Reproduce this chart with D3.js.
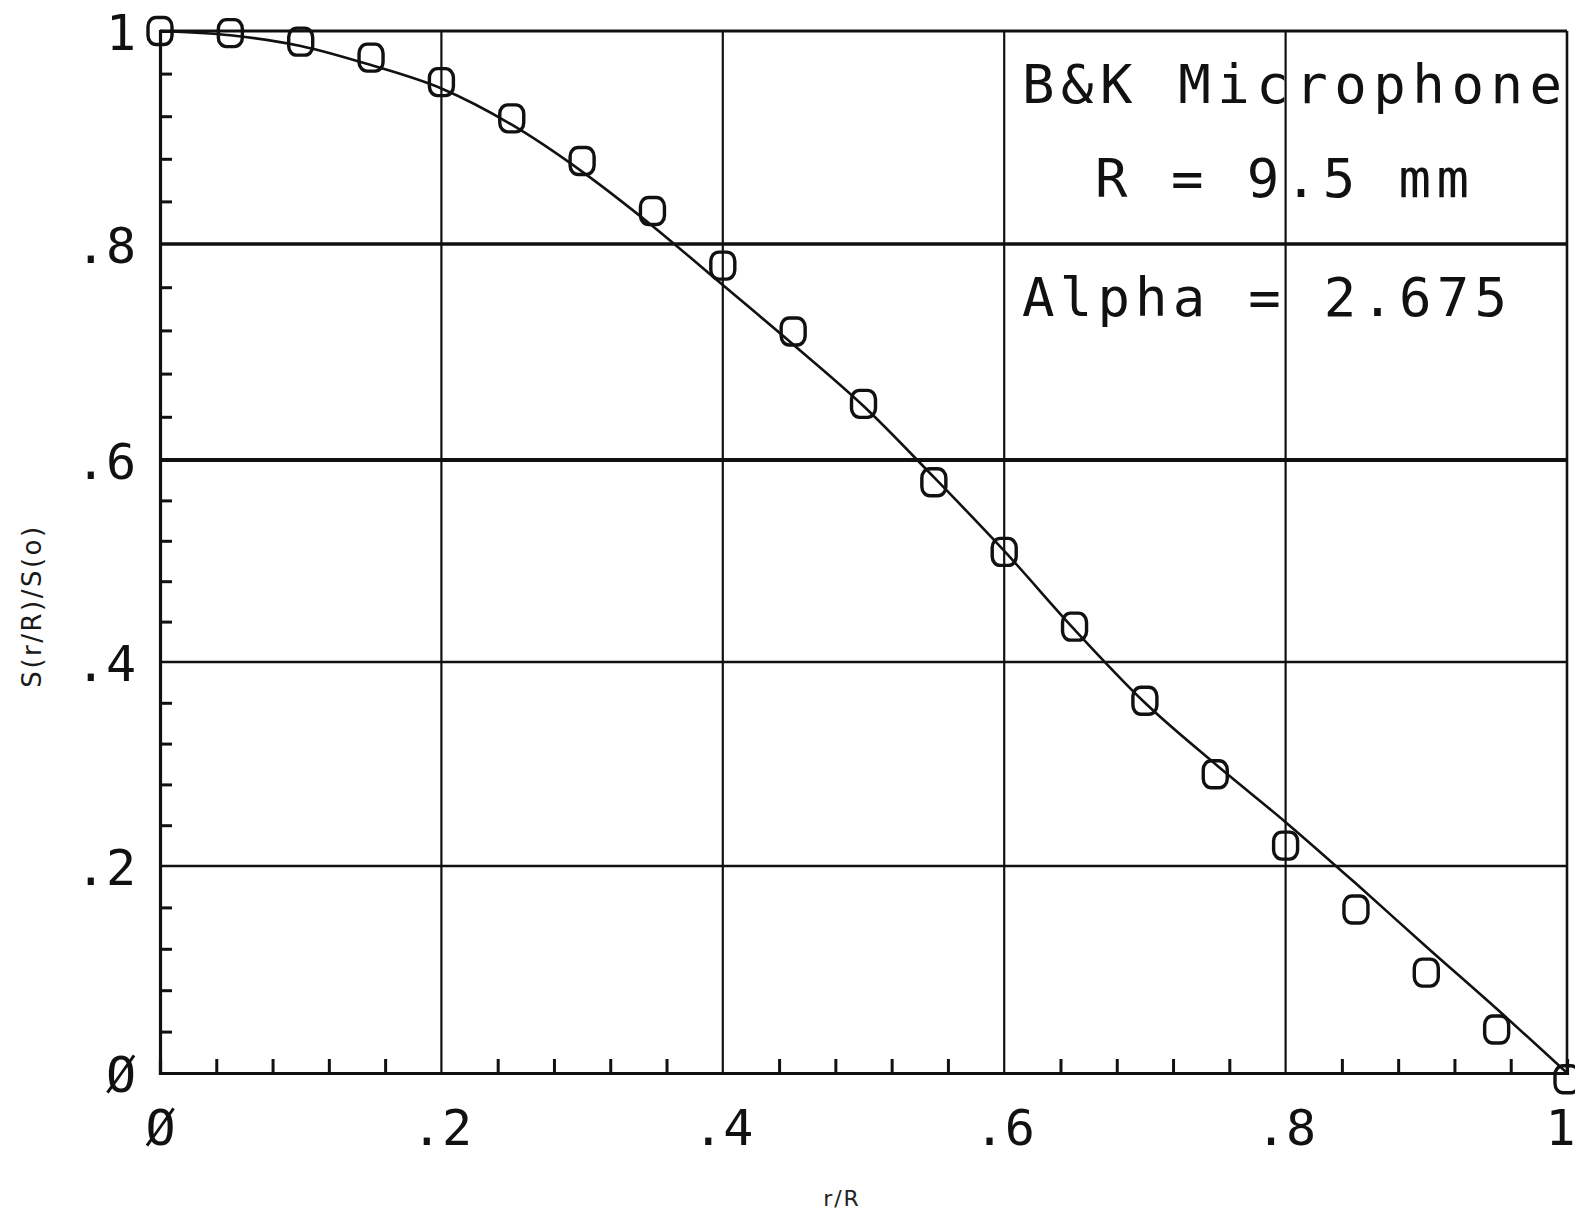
<!DOCTYPE html>
<html>
<head>
<meta charset="utf-8">
<script src="https://cdn.jsdelivr.net/npm/d3@7"></script>
<style>
  body { margin: 0; background: #fff; }
  svg { display: block; }
  .plotter { font-family: "DejaVu Sans Mono", "Liberation Mono", monospace; }
</style>
</head>
<body>
<svg id="chart" width="1575" height="1225"></svg>
<script>
// Measured sensitivity across the diaphragm, normalised to the centre value
const measuredR = [0, 0.05, 0.10, 0.15, 0.20, 0.25, 0.30, 0.35, 0.40, 0.45, 0.50,
                   0.55, 0.60, 0.65, 0.70, 0.75, 0.80, 0.85, 0.90, 0.95, 1.00];
const measuredS = [1.000, 0.998, 0.990, 0.975, 0.952, 0.918, 0.878, 0.831, 0.780, 0.719, 0.652,
                   0.578, 0.509, 0.435, 0.362, 0.290, 0.220, 0.158, 0.097, 0.042, -0.006];

// Fitted profile (Alpha = 2.675)
const fitR = [0, 0.05, 0.10, 0.15, 0.20, 0.25, 0.30, 0.35, 0.40, 0.45, 0.50,
              0.55, 0.60, 0.65, 0.70, 0.75, 0.80, 0.85, 0.90, 0.95, 1.00];
const fitS = [1.000, 0.996, 0.986, 0.968, 0.946, 0.912, 0.868, 0.817, 0.762, 0.707, 0.650,
              0.583, 0.510, 0.432, 0.360, 0.300, 0.243, 0.183, 0.122, 0.062, 0.000];

const xTickValues = [0, 0.2, 0.4, 0.6, 0.8, 1];
const xTickLabels = ["Ø", ".2", ".4", ".6", ".8", "1"];
const yTickValues = [0, 0.2, 0.4, 0.6, 0.8, 1];
const yTickLabels = ["Ø", ".2", ".4", ".6", ".8", "1"];
const minorStep = 0.04;

const legendLines = ["B&K Microphone", "R = 9.5 mm", "Alpha = 2.675"];
const xTitle = "r/R";
const yTitle = "S(r/R)/S(o)";

// ---- layout ----
const svg = d3.select("#chart");
const plot = {left: 160, right: 1567, top: 31, bottom: 1073};

const x = d3.scaleLinear().domain([0, 1]).range([plot.left, plot.right]);
// the plotter's paper feed is slightly uneven, so the y axis is calibrated per major division
const y = d3.scaleLinear()
  .domain(yTickValues)
  .range([plot.bottom, 866, 662, 460, 244, plot.top]);

svg.append("rect").attr("width", 1575).attr("height", 1225).attr("fill", "#fff");

// grid
const grid = svg.append("g").attr("stroke", "#111").attr("fill", "none");
grid.selectAll("line.v")
  .data(xTickValues.filter(v => v > 0 && v < 1))
  .join("line").attr("class", "v")
  .attr("x1", d => x(d)).attr("x2", d => x(d))
  .attr("y1", y(1)).attr("y2", y(0))
  .attr("stroke-width", 2.2);
const hWidth = {0.2: 2.6, 0.4: 2.6, 0.6: 4.2, 0.8: 3.6};
grid.selectAll("line.h")
  .data(yTickValues.filter(v => v > 0 && v < 1))
  .join("line").attr("class", "h")
  .attr("x1", x(0)).attr("x2", x(1))
  .attr("y1", d => y(d)).attr("y2", d => y(d))
  .attr("stroke-width", d => hWidth[d]);

// frame
const frame = svg.append("g").attr("stroke", "#111").attr("fill", "none");
frame.append("line").attr("x1", x(0)).attr("x2", x(1)).attr("y1", y(1)).attr("y2", y(1)).attr("stroke-width", 3.2);
frame.append("line").attr("x1", x(1)).attr("x2", x(1)).attr("y1", y(1)).attr("y2", y(0)).attr("stroke-width", 2.6);

// minor ticks, drawn inward
const minor = d3.range(0, 1 + 1e-9, minorStep).map(v => +v.toFixed(2))
  .filter(v => !xTickValues.includes(v));

const xMinor = svg.append("g").attr("transform", `translate(0,${y(0)})`)
  .call(d3.axisBottom(x).tickValues(minor).tickSize(-14).tickFormat(""));
const yMinor = svg.append("g").attr("transform", `translate(${x(0)},0)`)
  .call(d3.axisLeft(y).tickValues(minor.filter(v => v < 1)).tickSize(-12).tickFormat(""));
[xMinor, yMinor].forEach(g => {
  g.select(".domain").attr("stroke", "#111").attr("stroke-width", 3.2);
  g.selectAll(".tick line").attr("stroke", "#111").attr("stroke-width", 3);
});

// major tick labels
const xLab = svg.append("g").attr("transform", `translate(0,${y(0)})`)
  .call(d3.axisBottom(x).tickValues(xTickValues).tickSize(0)
        .tickFormat((d, i) => xTickLabels[i]));
xLab.select(".domain").remove();
xLab.attr("font-family", null).attr("font-size", null);
xLab.selectAll("text")
  .attr("class", "plotter")
  .attr("font-size", 50).attr("fill", "#111")
  .attr("dy", null).attr("y", 72);
// the last label sits against the right edge of the sheet
xLab.selectAll(".tick").filter(d => d === 1).select("text")
  .attr("text-anchor", "end").attr("x", 8);

const yLab = svg.append("g").attr("transform", `translate(${x(0)},0)`)
  .call(d3.axisLeft(y).tickValues(yTickValues).tickSize(0)
        .tickFormat((d, i) => yTickLabels[i]));
yLab.select(".domain").remove();
yLab.attr("font-family", null).attr("font-size", null);
yLab.selectAll("text")
  .attr("class", "plotter")
  .attr("font-size", 50).attr("fill", "#111")
  .attr("dy", "0.36em").attr("x", -24);

// fitted curve
const lineGen = d3.line()
  .x((d, i) => x(fitR[i]))
  .y(d => y(d))
  .curve(d3.curveMonotoneX);
svg.append("path")
  .datum(fitS)
  .attr("d", lineGen)
  .attr("fill", "none").attr("stroke", "#111").attr("stroke-width", 2.6);

// measured points (plotter "o" markers)
const mw = 24, mh = 27;
svg.append("g").selectAll("rect")
  .data(measuredS)
  .join("rect")
  .attr("x", (d, i) => x(measuredR[i]) - mw / 2)
  .attr("y", d => y(d) - mh / 2)
  .attr("width", mw).attr("height", mh)
  .attr("rx", 8).attr("ry", 9)
  .attr("fill", "none")
  .attr("stroke", "#111").attr("stroke-width", 3.4);

// annotation block
const legendPos = [
  {x: 1022, y: 103, len: 540},
  {x: 1095, y: 197, len: 374},
  {x: 1022, y: 316, len: 485}
];
svg.append("g").attr("class", "plotter")
  .selectAll("text")
  .data(legendLines)
  .join("text")
  .attr("x", (d, i) => legendPos[i].x)
  .attr("y", (d, i) => legendPos[i].y)
  .attr("textLength", (d, i) => legendPos[i].len)
  .attr("lengthAdjust", "spacing")
  .attr("font-size", 54)
  .attr("fill", "#111")
  .text(d => d);

// axis titles
svg.append("text")
  .attr("x", 842).attr("y", 1206)
  .attr("text-anchor", "middle")
  .attr("font-family", "DejaVu Sans, sans-serif")
  .attr("font-size", 22).attr("letter-spacing", 2)
  .attr("fill", "#222")
  .text(xTitle);

svg.append("text")
  .attr("transform", "translate(41,606) rotate(-90)")
  .attr("text-anchor", "middle")
  .attr("font-family", "DejaVu Sans, sans-serif")
  .attr("font-size", 26).attr("letter-spacing", 2.5)
  .attr("fill", "#1a1a1a")
  .text(yTitle);
</script>
</body>
</html>
